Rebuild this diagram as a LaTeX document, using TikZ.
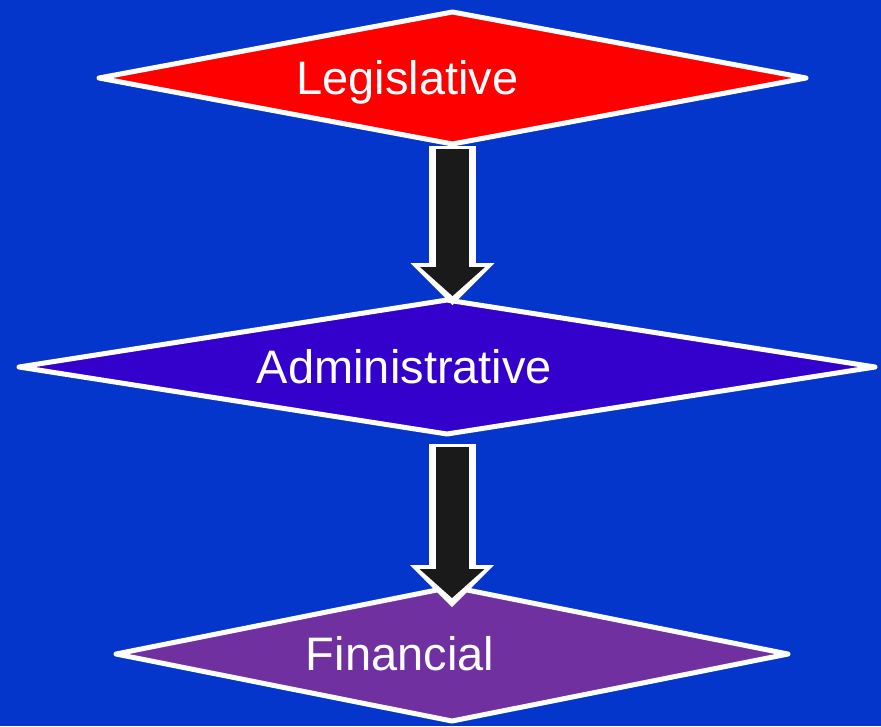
\documentclass[tikz,border=0pt]{standalone}
\usepackage{fontspec}
\setmainfont{Liberation Sans}
\usetikzlibrary{shapes.geometric,arrows.meta}
\definecolor{bgblue}{HTML}{0436CC}
\definecolor{legred}{HTML}{FF0000}
\definecolor{admblue}{HTML}{3300CC}
\definecolor{finpurple}{HTML}{7030A0}
\definecolor{arrowblack}{HTML}{1A1A1A}
\begin{document}
\begin{tikzpicture}[x=1pt,y=-1pt,
                branch/.style={diamond,draw=white,line width=5pt,line join=round,inner sep=0pt,outer sep=0pt},
                branchtext/.style={text=white,anchor=base,inner sep=0pt,font=\fontsize{47}{56}\selectfont},
                flowout/.style={draw=white,line width=47pt,-{Triangle[width=84pt,length=42pt,line width=0pt]}},
                flowin/.style={draw=arrowblack,line width=33pt,-{Triangle[width=65pt,length=29pt,line width=0pt]}}]
                \useasboundingbox (0,0) rectangle (881,726);
                \fill[bgblue] (0,0) rectangle (881,726);
                \node[branch,fill=legred,minimum width=707pt,minimum height=132pt] (BL) at (452.5,78) {};
                \node[branch,fill=admblue,minimum width=856pt,minimum height=134pt] (BA) at (447,367) {};
                \node[branch,fill=finpurple,minimum width=672pt,minimum height=134pt] (BF) at (452,654) {};
                \draw[flowout,shorten <=2pt,shorten >=-5pt] (BL.south) -- (BL.south |- BA.north);
                \draw[flowin,shorten <=5pt,shorten >=4pt] (BL.south) -- (BL.south |- BA.north);
                \draw[flowout,shorten <=10pt,shorten >=-20pt] (BA.south -| BF.north) -- (BF.north);
                \draw[flowin,shorten <=13pt,shorten >=-11pt] (BA.south -| BF.north) -- (BF.north);
                \node[branchtext] (TL) at (407.5,94) {Legislative};
                \node[branchtext] (TA) at (404.5,383) {Administrative};
                \node[branchtext] (TF) at (400,670) {Financial};
\end{tikzpicture}
\end{document}
